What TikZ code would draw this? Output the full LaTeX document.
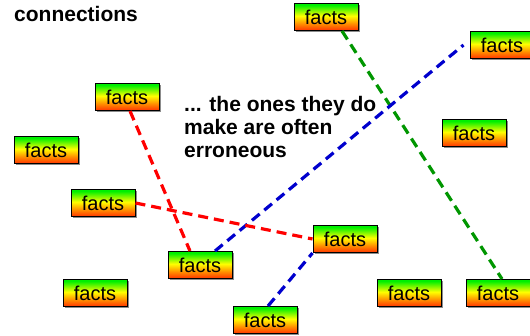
\documentclass[tikz,border=0pt]{standalone}
\usepackage{fontspec}
\setmainfont{Liberation Sans}
\usepackage{xcolor}
\usepackage{tikz}
\usetikzlibrary{shadows}

\definecolor{factred}{RGB}{255,51,0}
\definecolor{factorange}{RGB}{255,145,0}
\definecolor{factyellow}{RGB}{255,255,0}
\definecolor{factgreen}{RGB}{0,240,0}
\definecolor{linkgreen}{RGB}{0,150,0}
\definecolor{linkblue}{RGB}{0,0,205}
\definecolor{linkred}{RGB}{255,0,0}

\pgfdeclareverticalshading{factshade}{100bp}{color(0bp)=(factred); color(25bp)=(factred); color(38bp)=(factorange); color(52bp)=(factyellow); color(72bp)=(factgreen); color(100bp)=(factgreen)}

\begin{document}
\begin{tikzpicture}[
  x=1pt, y=-1pt,
  fact/.style={draw=black, line width=1pt, rectangle, shading=factshade, minimum width=64pt, minimum height=27pt, inner sep=0pt, font=\fontsize{20}{22}\selectfont,
    drop shadow={shadow xshift=1.5pt, shadow yshift=-1.5pt, fill=black!45, opacity=1}},
  link/.style={line width=3.2pt, dash pattern=on 10pt off 6pt},
  note/.style={font=\fontsize{21}{23}\selectfont\bfseries, align=left, inner sep=0pt}
]
\useasboundingbox (0,0) rectangle (530,335);

\node[note, anchor=base west] (conn) at (14,21) {connections};
\node[note, anchor=north west] (wrong) at (184,96) {... the ones they do\\make are often\\erroneous};

\node[fact] (top) at (326,17) {facts};
\node[fact] (farright) at (502,45) {facts};
\node[fact] (upleft) at (127,97) {facts};
\node[fact] (midright) at (474,133) {facts};
\node[fact] (left) at (46,150) {facts};
\node[fact] (midleft) at (103,203) {facts};
\node[fact] (centre) at (200,265) {facts};
\node[fact] (lowmid) at (345,239) {facts};
\node[fact] (bottom) at (265,320) {facts};
\node[fact] (lowleft) at (95,293) {facts};
\node[fact] (lowright) at (409,293) {facts};
\node[fact] (corner) at (498,293) {facts};

\draw[link, linkgreen] ([xshift=16pt]top.south) -- ([xshift=4pt]corner.north);
\draw[link, linkblue] ([xshift=15pt]centre.north) -- ([xshift=-6pt]farright.west);
\draw[link, linkblue] ([xshift=3pt]bottom.north) -- (lowmid.south west);
\draw[link, linkred] ([xshift=3pt]upleft.south) -- ([xshift=-10pt]centre.north);
\draw[link, linkred] (midleft.east) -- (lowmid.west);

\end{tikzpicture}
\end{document}
